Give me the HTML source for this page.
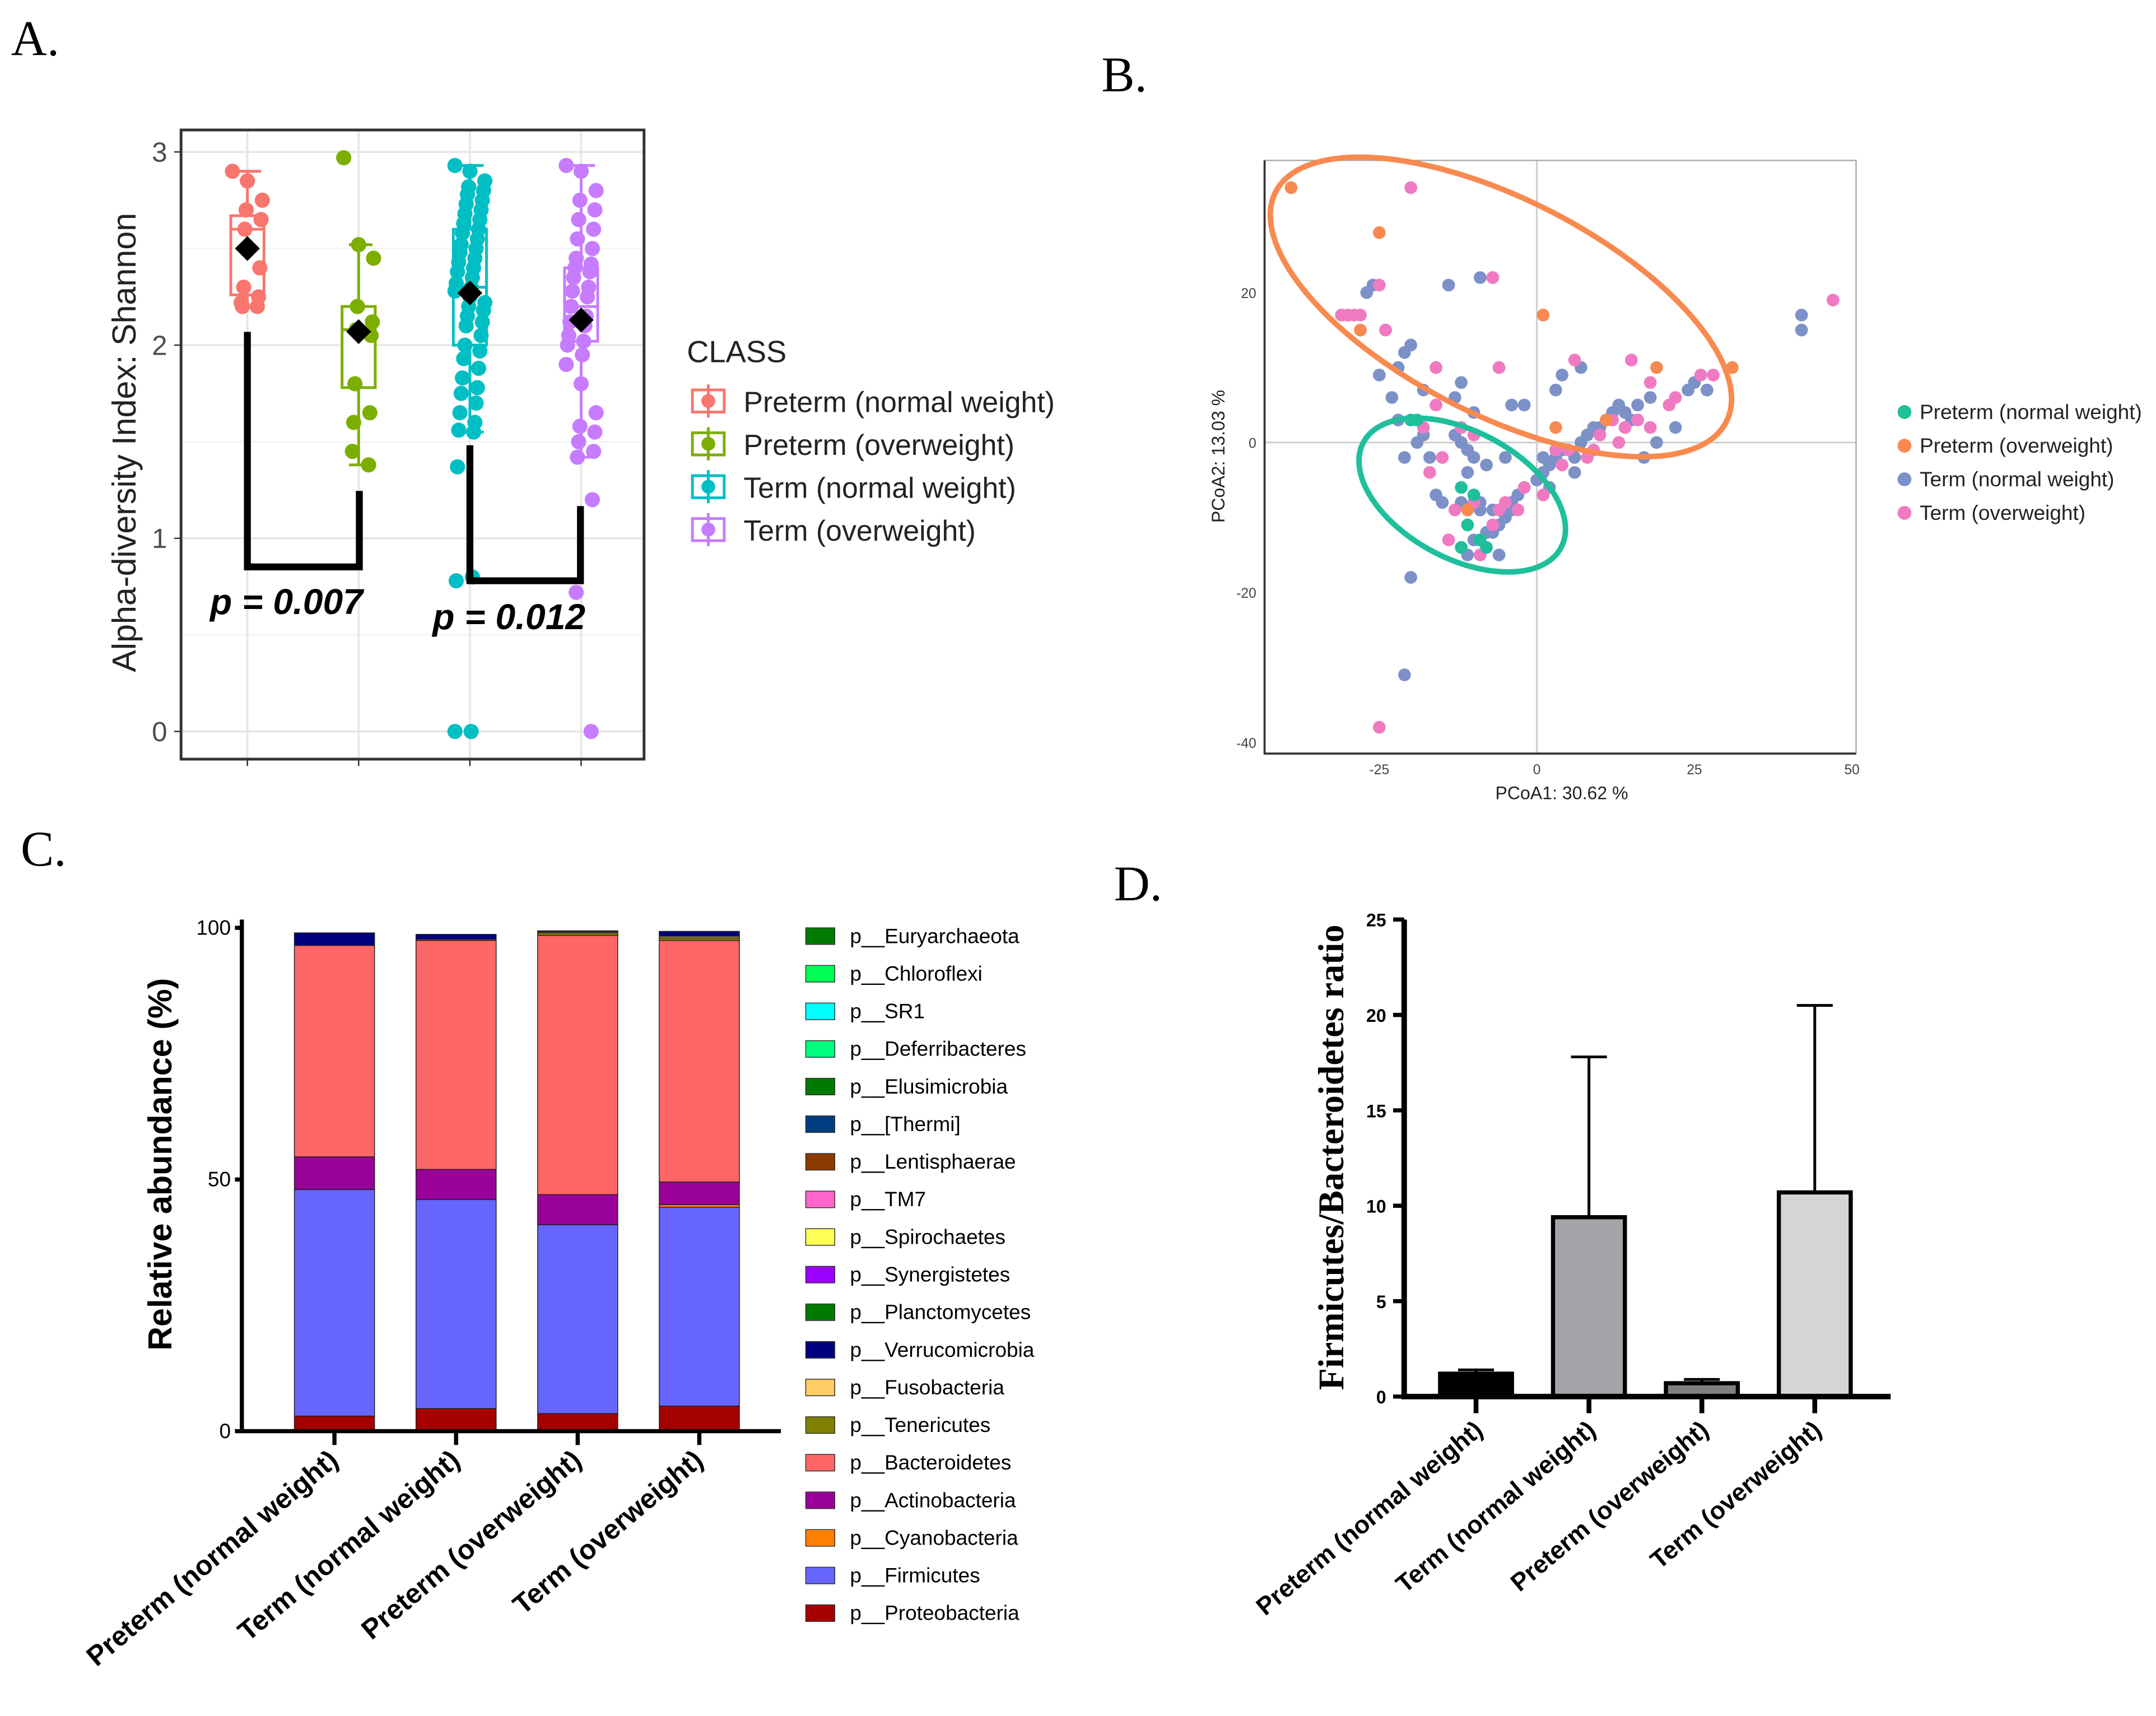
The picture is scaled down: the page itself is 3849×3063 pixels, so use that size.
<!DOCTYPE html>
<html><head><meta charset="utf-8"><style>html,body{margin:0;padding:0;background:#fff}svg{display:block}</style></head>
<body>
<svg id="fig" xmlns="http://www.w3.org/2000/svg" width="3849" height="3063" viewBox="0 0 1560 1241" preserveAspectRatio="none" font-family="Liberation Sans, sans-serif">
<rect width="1560" height="1241" fill="#fff"/>
<g id="A"></g>
<g id="B"></g>
<g id="C"></g>
<g id="D"></g>
<text x="8" y="40" font-family="Liberation Serif, serif" font-size="36">A.</text>
<text x="797" y="66" font-family="Liberation Serif, serif" font-size="36">B.</text>
<text x="15" y="626" font-family="Liberation Serif, serif" font-size="36">C.</text>
<text x="806" y="651" font-family="Liberation Serif, serif" font-size="36">D.</text>
</svg>
<script>
// ---------- Panel A data ----------
const aGroups = ["Preterm (normal weight)","Preterm (overweight)","Term (normal weight)","Term (overweight)"];
const aColors = ["#f8766d","#7cae00","#00bfc4","#c77cff"];
const aQ1 = [2.26,1.78,2.0,2.02];
const aMedian = [2.6,2.08,2.3,2.2];
const aQ3 = [2.67,2.2,2.6,2.4];
const aWLo = [2.2,1.38,1.55,1.42];
const aWHi = [2.9,2.52,2.93,2.93];
const aMean = [2.5,2.07,2.27,2.13];
const aPtsPN = [2.9,2.85,2.75,2.7,2.65,2.6,2.4,2.3,2.25,2.2,2.2,2.22];
const aPtsPO = [2.97,2.52,2.45,2.2,2.12,2.08,2.05,1.8,1.65,1.6,1.38,1.45];
const aPtsTN = [2.93,2.9,2.85,2.82,2.8,2.78,2.75,2.73,2.7,2.68,2.65,2.63,2.6,2.58,2.55,2.52,2.5,2.48,2.45,2.43,2.4,2.38,2.35,2.32,2.3,2.28,2.25,2.22,2.2,2.18,2.15,2.12,2.1,2.05,2.0,1.97,1.93,1.88,1.83,1.78,1.75,1.7,1.65,1.6,1.56,1.55,1.37,0.8,0.78,0,0];
const aPtsTO = [2.93,2.9,2.8,2.75,2.7,2.65,2.6,2.55,2.5,2.45,2.42,2.4,2.38,2.35,2.3,2.28,2.25,2.2,2.15,2.12,2.1,2.05,2.02,2.0,1.95,1.9,1.8,1.65,1.58,1.55,1.5,1.45,1.42,1.2,0.72,0];
const aTicks = [0,1,2,3];
// ---------- Panel B data ----------
const bTeal = [[-20,3],[-19,3],[-12,-6],[-10,-7],[-12,-14],[-8,-14],[-9,-13],[-11,-11]];
const bOrange = [[-39,34],[-25,28],[1,17],[-28,15],[3,2],[11,3],[19,10],[31,10],[-11,-9]];
const bPink = [[-20,34],[-25,21],[-7,22],[-31,17],[-30,17],[-29,17],[-28,17],[-24,15],[-16,10],[-6,10],[6,11],[15,11],[18,8],[21,5],[28,9],[47,19],[-16,5],[-12,2],[-10,1],[-17,-4],[-13,-9],[-10,-8],[-14,-13],[-7,-11],[-9,-15],[-2,-6],[1,-7],[4,-3],[5,-1],[8,-2],[14,2],[12,3],[10,1],[13,0],[-5,-8],[-11,-11],[-25,-38],[-15,-2],[-18,2],[22,6],[26,9],[-3,-9],[-6,-9],[3,-1],[16,3],[18,2],[9,-1]];
const bBlue = [[-31,17],[-27,20],[-26,21],[-24,15],[-21,12],[-20,13],[-22,10],[-16,10],[-23,6],[-25,9],[-18,7],[-12,8],[-10,4],[-6,10],[-4,5],[-13,6],[-7,22],[-9,22],[-14,21],[-22,3],[-21,-2],[-17,-2],[-19,0],[-18,1],[-12,0],[-11,-1],[-10,-2],[-11,-4],[-16,-7],[-15,-8],[-12,-8],[-9,-8],[-7,-9],[-5,-10],[-6,-11],[-4,-9],[-3,-7],[-2,-6],[0,-5],[1,-4],[2,-3],[3,-2],[4,-1],[5,-1],[6,-2],[7,0],[8,1],[9,2],[10,2],[11,3],[12,4],[13,5],[14,4],[15,3],[16,5],[18,6],[22,2],[24,7],[25,8],[27,7],[-8,-12],[-10,-13],[-11,-15],[-6,-15],[-20,-18],[-21,-31],[-8,-3],[-5,-2],[-2,5],[1,-2],[4,9],[7,10],[3,7],[42,17],[42,15],[19,0],[17,-2],[-13,1],[-9,-9],[-7,-12],[-4,-8],[2,-6],[6,-4],[14,2]];
const bXTicks = [-25,0,25,50];
const bYTicks = [-40,-20,0,20];
const bNames = ["Preterm (normal weight)","Preterm (overweight)","Term (normal weight)","Term (overweight)"];
// ---------- Panel C data ----------
const cGroups = ["Preterm (normal weight)","Term (normal weight)","Preterm (overweight)","Term (overweight)"];
const cPhyla = ["p__Proteobacteria","p__Firmicutes","p__Cyanobacteria","p__Actinobacteria","p__Bacteroidetes","p__Tenericutes","p__Fusobacteria","p__Verrucomicrobia"];
const cPhylaColors = ["#a50000","#6666ff","#ff8000","#990099","#ff6666","#808000","#ffcc66","#000080"];
const cProteo = [3,4.5,3.5,5];
const cFirmi = [45,41.5,37.5,39.5];
const cCyano = [0,0,0,0.5];
const cActino = [6.5,6,6,4.5];
const cBacter = [42,45.5,51.5,48];
const cTener = [0,0,0.5,0.5];
const cFuso = [0,0.2,0.2,0.3];
const cVerru = [2.5,1,0.2,1];
const cTicks = [0,50,100];
const cLegend = ["p__Euryarchaeota","p__Chloroflexi","p__SR1","p__Deferribacteres","p__Elusimicrobia","p__[Thermi]","p__Lentisphaerae","p__TM7","p__Spirochaetes","p__Synergistetes","p__Planctomycetes","p__Verrucomicrobia","p__Fusobacteria","p__Tenericutes","p__Bacteroidetes","p__Actinobacteria","p__Cyanobacteria","p__Firmicutes","p__Proteobacteria"];
const cLegendColors = ["#007a00","#00ff55","#00ffff","#00ff80","#007a00","#003d80","#8b3a00","#ff66cc","#ffff55","#9900ff","#007a00","#000080","#ffcc66","#808000","#ff6666","#990099","#ff8000","#6666ff","#a50000"];
// ---------- Panel D data ----------
const dGroups = ["Preterm (normal weight)","Term (normal weight)","Preterm (overweight)","Term (overweight)"];
const dMeans = [1.2,9.4,0.7,10.7];
const dErr = [1.4,17.8,0.9,20.5];
const dColors = ["#000000","#a3a3a8","#808080","#d5d5d5"];
const dTicks = [0,5,10,15,20,25];

const NS="http://www.w3.org/2000/svg";
function mk(parent,tag,attrs,text){const e=document.createElementNS(NS,tag);for(const k in attrs)e.setAttribute(k,attrs[k]);if(text!==undefined)e.textContent=text;parent.appendChild(e);return e;}

// ===== Panel A =====
(function(){
const g=document.getElementById('A');
const yA=v=>529-v*139.7;
const xA=i=>179+i*80.5;
mk(g,'rect',{x:131,y:94,width:335,height:455,fill:'#fff'});
[0.5,1.5,2.5].forEach(v=>mk(g,'line',{x1:131,x2:466,y1:yA(v),y2:yA(v),stroke:'#f2f2f2','stroke-width':1}));
aTicks.forEach(v=>{const l=mk(g,'line',{x1:131,x2:466,y1:yA(v),y2:yA(v),stroke:'#e6e6e6','stroke-width':1.5});

const t=mk(g,'text',{x:121,y:yA(v)+7,'font-size':20,fill:'#4d4d4d','text-anchor':'end'},String(v));

mk(g,'line',{x1:126,x2:131,y1:yA(v),y2:yA(v),stroke:'#333','stroke-width':1});});
aGroups.forEach((n,i)=>{mk(g,'line',{x1:xA(i),x2:xA(i),y1:94,y2:549,stroke:'#e6e6e6','stroke-width':1.5});
mk(g,'line',{x1:xA(i),x2:xA(i),y1:549,y2:554,stroke:'#333','stroke-width':1});});
const pts=[aPtsPN,aPtsPO,aPtsTN,aPtsTO];
aGroups.forEach((n,i)=>{const c=aColors[i];const x=xA(i);
const w=mk(g,'line',{x1:x,x2:x,y1:yA(aWLo[i]),y2:yA(aWHi[i]),stroke:c,'stroke-width':2});

mk(g,'line',{x1:x-7,x2:x+10,y1:yA(aWHi[i]),y2:yA(aWHi[i]),stroke:c,'stroke-width':2});
mk(g,'line',{x1:x-7,x2:x+10,y1:yA(aWLo[i]),y2:yA(aWLo[i]),stroke:c,'stroke-width':2});
const b=mk(g,'rect',{x:x-12,y:yA(aQ3[i]),width:24,height:yA(aQ1[i])-yA(aQ3[i]),fill:'#fff',stroke:c,'stroke-width':2});

pts[i].forEach((v,j)=>{const jit=((j*37)%25)-12;
const p=mk(g,'circle',{cx:x+jit*0.9,cy:yA(v),r:5.5,fill:c});
});
mk(g,'line',{x1:x-12,x2:x+12,y1:yA(aMedian[i]),y2:yA(aMedian[i]),stroke:c,'stroke-width':2});
const m=mk(g,'path',{d:`M${x} ${yA(aMean[i])-9}L${x+9} ${yA(aMean[i])}L${x} ${yA(aMean[i])+9}L${x-9} ${yA(aMean[i])}Z`,fill:'#000'});
});
mk(g,'rect',{x:131,y:94,width:335,height:455,fill:'none',stroke:'#333','stroke-width':2});
mk(g,'path',{d:'M179 240V410H260V355',fill:'none',stroke:'#000','stroke-width':5,});
mk(g,'path',{d:'M340 322V420H420V366',fill:'none',stroke:'#000','stroke-width':5,});
mk(g,'text',{x:152,y:444,'font-size':26,'font-weight':'bold','font-style':'italic',},'p = 0.007');
mk(g,'text',{x:313,y:455,'font-size':26,'font-weight':'bold','font-style':'italic',},'p = 0.012');
mk(g,'text',{x:98,y:320,'font-size':24,fill:'#222','text-anchor':'middle',transform:'rotate(-90 98 320)',},'Alpha-diversity Index: Shannon');
mk(g,'text',{x:497,y:262,'font-size':22,fill:'#222',},'CLASS');
aGroups.forEach((n,i)=>{const y=290+i*31;const c=aColors[i];
const le=mk(g,'g',{});
mk(le,'rect',{x:501,y:y-8,width:23,height:16,fill:'#fff',stroke:c,'stroke-width':2});
mk(le,'line',{x1:512.5,x2:512.5,y1:y-12,y2:y+12,stroke:c,'stroke-width':2});
mk(le,'circle',{cx:512.5,cy:y,r:5,fill:c});
mk(le,'text',{x:538,y:y+8,'font-size':21,fill:'#222'},n);});
})();

// ===== Panel B =====
(function(){
const g=document.getElementById('B');
const xB=v=>1112+v*4.56, yB=v=>320-v*5.42;
mk(g,'line',{x1:915,x2:1343,y1:yB(0),y2:yB(0),stroke:'#ccc','stroke-width':1.2});
mk(g,'line',{x1:xB(0),x2:xB(0),y1:116,y2:545,stroke:'#ccc','stroke-width':1.2});
mk(g,'path',{d:'M915 116H1343V545',fill:'none',stroke:'#aaa','stroke-width':1});
mk(g,'path',{d:'M915 116V545H1343',fill:'none',stroke:'#333','stroke-width':1.5});
bXTicks.forEach(v=>{const t=mk(g,'text',{x:xB(v),y:560,'font-size':10,fill:'#444','text-anchor':'middle'},String(v));
});
bYTicks.forEach(v=>{const t=mk(g,'text',{x:909,y:yB(v)+4,'font-size':10,fill:'#444','text-anchor':'end'},String(v));
});
const sets=[[bTeal,'#1fbf9c'],[bOrange,'#f88a50'],[bBlue,'#7b91c8'],[bPink,'#f07ac2']];
[2,3,1,0].forEach(k=>{sets[k][0].forEach(p=>{const c=mk(g,'circle',{cx:xB(p[0]),cy:yB(p[1]),r:4.6,fill:sets[k][1]});
});});
mk(g,'ellipse',{cx:1086,cy:222,rx:183,ry:78,transform:'rotate(27 1086 222)',fill:'none',stroke:'#f88a50','stroke-width':4,});
mk(g,'ellipse',{cx:1058,cy:358,rx:81,ry:46,transform:'rotate(28 1058 358)',fill:'none',stroke:'#1fbf9c','stroke-width':4,});
mk(g,'text',{x:1130,y:578,'font-size':13,fill:'#222','text-anchor':'middle',},'PCoA1:  30.62 %');
mk(g,'text',{x:886,y:330,'font-size':13,fill:'#222','text-anchor':'middle',transform:'rotate(-90 886 330)',},'PCoA2:  13.03 %');
bNames.forEach((n,i)=>{const y=298+i*24.3;
const le=mk(g,'g',{});
mk(le,'circle',{cx:1378,cy:y,r:5,fill:sets[i][1]});
mk(le,'text',{x:1389,y:y+5,'font-size':15,fill:'#222'},n);});
})();

// ===== Panel C =====
(function(){
const g=document.getElementById('C');
const yC=v=>1035-v*3.64;
const xC=i=>242+i*88;
const series=[cProteo,cFirmi,cCyano,cActino,cBacter,cTener,cFuso,cVerru];
cGroups.forEach((n,i)=>{let acc=0;
series.forEach((s,k)=>{const v=s[i];if(v<=0)return;
const r=mk(g,'rect',{x:xC(i)-29,y:yC(acc+v),width:58,height:yC(acc)-yC(acc+v),fill:cPhylaColors[k],stroke:'#222','stroke-width':0.6});
acc+=v;});
mk(g,'line',{x1:xC(i),x2:xC(i),y1:1035,y2:1045,stroke:'#000','stroke-width':3});
const t=mk(g,'text',{x:xC(i)+4,y:1058,'font-size':20,'font-weight':'bold','text-anchor':'end',transform:`rotate(-40 ${xC(i)+4} 1058)`},n);
});
mk(g,'path',{d:'M175 665V1035H565',fill:'none',stroke:'#000','stroke-width':3});
cTicks.forEach(v=>{mk(g,'line',{x1:170,x2:175,y1:yC(v),y2:yC(v),stroke:'#000','stroke-width':3});
const t=mk(g,'text',{x:167,y:yC(v)+5,'font-size':15,'text-anchor':'end'},String(v));
});
mk(g,'text',{x:124,y:842,'font-size':24,'font-weight':'bold','text-anchor':'middle',transform:'rotate(-90 124 842)',},'Relative abundance (%)');
cLegend.forEach((n,i)=>{const y=677+i*27.2;
const le=mk(g,'g',{});
mk(le,'rect',{x:583,y:y-6,width:21,height:12,fill:cLegendColors[i],stroke:'#333','stroke-width':0.6});
mk(le,'text',{x:615,y:y+5,'font-size':15},n);});
})();

// ===== Panel D =====
(function(){
const g=document.getElementById('D');
const yD=v=>1010-v*13.8;
const xD=i=>1068+i*81.7;
dGroups.forEach((n,i)=>{
const e=mk(g,'path',{d:`M${xD(i)} ${yD(dMeans[i])}V${yD(dErr[i])}M${xD(i)-13} ${yD(dErr[i])}H${xD(i)+13}`,stroke:'#000','stroke-width':2,fill:'none'});

const r=mk(g,'rect',{x:xD(i)-26,y:yD(dMeans[i]),width:52,height:yD(0)-yD(dMeans[i]),fill:dColors[i],stroke:'#000','stroke-width':3});

mk(g,'line',{x1:xD(i),x2:xD(i),y1:1010,y2:1022,stroke:'#000','stroke-width':3.5});
const t=mk(g,'text',{x:xD(i)+6,y:1036,'font-size':18,'font-weight':'bold','text-anchor':'end',transform:`rotate(-40 ${xD(i)+6} 1036)`},n);
});
mk(g,'path',{d:'M1016 665V1010H1368',fill:'none',stroke:'#000','stroke-width':4});
dTicks.forEach(v=>{mk(g,'line',{x1:1008,x2:1016,y1:yD(v),y2:yD(v),stroke:'#000','stroke-width':3});
const t=mk(g,'text',{x:1003,y:yD(v)+5,'font-size':13,'font-weight':'bold','text-anchor':'end'},String(v));
});
mk(g,'text',{x:972,y:837,'font-size':26,'font-weight':'bold','font-family':'Liberation Serif, serif','text-anchor':'middle',transform:'rotate(-90 972 837)',},'Firmicutes/Bacteroidetes ratio');
})();
</script>
</body></html>
